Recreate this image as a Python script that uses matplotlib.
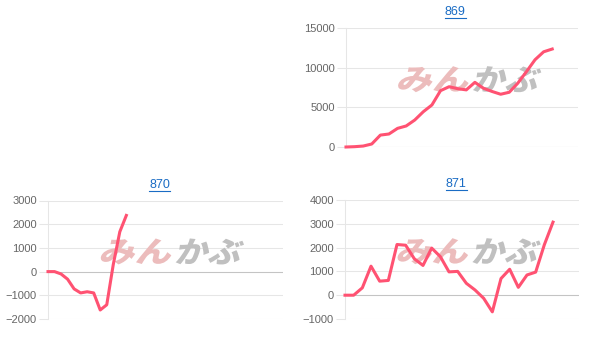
import numpy as np
import matplotlib
matplotlib.use("Agg")
import matplotlib.pyplot as plt
from matplotlib.textpath import TextPath
from matplotlib.patches import PathPatch
from matplotlib.font_manager import FontProperties
from matplotlib.transforms import Affine2D, IdentityTransform
from matplotlib.lines import Line2D

plt.rcParams['font.family'] = ['Liberation Sans', 'DejaVu Sans']

# data
titles = ["869", "870", "871"]
vals_869 = [0, 40, 120, 380, 1500, 1640, 2350, 2650, 3400, 4450, 5300, 7100, 7600,
            7350, 7200, 8150, 7400, 7000, 6650, 6900, 8050, 9500, 11000, 12000, 12350]
vals_870 = [0, 0, -100, -320, -730, -900, -850, -900, -1620, -1400, 300, 1680, 2370]
vals_871 = [0, 0, 310, 1220, 590, 620, 2130, 2100, 1530, 1250, 1980, 1620, 980,
            1000, 500, 220, -130, -700, 700, 1090, 330, 850, 970, 2120, 3070]
x_slots = [27, 36, 27]
y_ranges = [(0, 15000, 5000), (-2000, 3000, 1000), (-1000, 4000, 1000)]

W, H = 611, 346
LINE = '#ff5272'
GRID = '#e6e6e6'
ZERO = '#c4c4c4'
LINK = '#1a6cc4'

fig = plt.figure(figsize=(W / 100, H / 100), dpi=100)
fig.patch.set_facecolor('white')

# axes boxes in pixels: left, top, right, bottom
boxes = [(346, 28, 578, 147), (48, 200.5, 283, 319), (345, 200, 579, 319)]
series = [vals_869, vals_870, vals_871]

fp_wm = FontProperties(family='Noto Sans CJK JP', weight='black')


def watermark(ax, l, t, r, b):
    # stand-in for the site's logo image behind each chart
    w = r - l
    h = b - t
    x0 = l + 0.23 * w
    yc = H - (t + 0.43 * h)
    for txt, color, xoff, tw in [('みん', '#ecbcbc', 0, 70), ('かぶ', '#c0c0c0', 76, 64)]:
        tp = TextPath((0, 0), txt, size=100, prop=fp_wm)
        ext = tp.get_extents()
        tr = (Affine2D().translate(-ext.x0, -ext.y0)
              .scale(tw / ext.width, 26 / ext.height)
              .skew_deg(14, 0)
              .translate(x0 + xoff - 3, yc - 13))
        patch = PathPatch(tr.transform_path(tp), fc=color, ec='none',
                          transform=IdentityTransform(), zorder=1)
        patch.set_clip_on(False)
        ax.add_artist(patch)


for title, vals, n, (lo, hi, step), (l, t, r, b) in zip(titles, series, x_slots, y_ranges, boxes):
    ax = fig.add_axes([l / W, (H - b) / H, (r - l) / W, (b - t) / H])
    ax.set_facecolor('none')
    ax.set_axisbelow(True)
    x = np.arange(len(vals))
    ax.plot(x, vals, color=LINE, lw=2.2, zorder=3, clip_on=False)
    ax.set_xlim(0, n)
    ax.set_ylim(lo, hi)
    ax.set_yticks(np.arange(lo, hi + 1, step))
    ax.set_xticks([])
    ax.grid(axis='y', color=GRID, lw=0.75)
    ax.axhline(0, color=ZERO, lw=0.75, zorder=0.8)
    for s in ['top', 'right', 'bottom']:
        ax.spines[s].set_visible(False)
    ax.spines['left'].set_color(GRID)
    ax.spines['left'].set_linewidth(0.75)
    ax.tick_params(axis='y', length=6.5, width=0.75, color=GRID, pad=1.5,
                   labelsize=8, labelcolor='#666666')
    watermark(ax, l, t, r, b)

    # underlined link-style title
    cx = (l + r) / 2 + (-7 if title == "869" else -6)
    ty = t - 16
    fig.text(cx / W, (H - ty) / H, title, color=LINK, fontsize=9,
             ha='center', va='center')
    fig.add_artist(Line2D([(cx - 10.5) / W, (cx + 10.5) / W],
                          [(H - ty - 6) / H, (H - ty - 6) / H],
                          color=LINK, lw=0.8))

fig.savefig('out.png', dpi=100)
